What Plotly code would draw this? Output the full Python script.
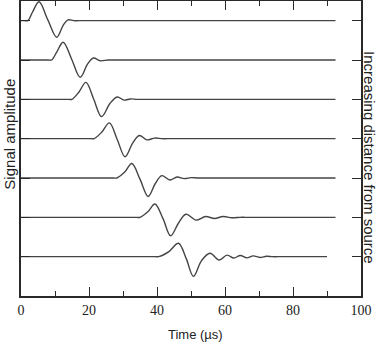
import plotly.graph_objects as go

# Baseline offsets (trace 1 at top)
offsets = [7, 6, 5, 4, 3, 2, 1]

# Key points of each waveform: time (µs) and amplitude relative to baseline
trace1_t = [0, 1.0, 2.0, 3.4, 5.3, 7.9, 10.5, 12.4, 13.8, 15.5, 17.0, 92.5]
trace1_a = [0, 0, 0, 0.22, 0.48, 0.02, -0.42, -0.12, 0.02, 0, 0, 0]

trace2_t = [0, 8.0, 9.0, 10.5, 12.4, 14.9, 17.4, 19.6, 21.3, 23.3, 25.5, 27.0, 92.5]
trace2_a = [0, 0, 0, 0.2, 0.45, 0.02, -0.44, -0.1, 0.05, -0.02, 0, 0, 0]

trace3_t = [0, 14.0, 15.0, 17.0, 19.1, 21.4, 23.7, 26.2, 28.3, 30.3, 32.2, 34, 35.5, 92.5]
trace3_a = [0, 0, 0, 0.18, 0.43, 0.0, -0.44, -0.1, 0.06, -0.02, 0.01, 0, 0, 0]

trace4_t = [0, 20.5, 21.5, 23.8, 26.0, 28.3, 30.6, 32.8, 34.8, 37.0, 39.3, 41.5, 43.0, 92.5]
trace4_a = [0, 0, 0, 0.17, 0.40, -0.02, -0.46, -0.12, 0.08, -0.03, 0.015, 0, 0, 0]

trace5_t = [0, 27.2, 28.2, 30.5, 32.6, 35.0, 37.4, 39.5, 41.4, 43.8, 45.9, 48.0, 50.0, 52, 53.5, 92.5]
trace5_a = [0, 0, 0, 0.15, 0.37, -0.03, -0.47, -0.14, 0.06, -0.05, 0.025, -0.015, 0.01, 0, 0, 0]

trace6_t = [0, 34.0, 35.0, 37.3, 39.4, 41.8, 44.0, 46.3, 48.5, 51.5, 54.3, 56.9, 59.4, 62, 64.5, 66.0, 92.5]
trace6_a = [0, 0, 0, 0.14, 0.34, -0.04, -0.47, -0.15, 0.08, -0.07, 0.02, -0.03, 0.02, -0.01, 0, 0, 0]

trace7_t = [0, 39.5, 40.5, 43.5, 46.3, 48.6, 50.7, 53.1, 55.6, 58.3, 60.6, 62.6, 64.5, 66.4, 68.3, 70.3, 72.2, 74, 75.5, 90]
trace7_a = [0, 0, 0, 0.13, 0.34, -0.05, -0.50, -0.1, 0.085, -0.085, 0.04, -0.035, 0.03, -0.03, 0.02, -0.02, 0.01, 0, 0, 0]

x_ticks = [0, 20, 40, 60, 80, 100]
x_tick_labels = ["0", "20", "40", "60", "80", "100"]

waves = [
    (trace1_t, trace1_a), (trace2_t, trace2_a), (trace3_t, trace3_a),
    (trace4_t, trace4_a), (trace5_t, trace5_a), (trace6_t, trace6_a),
    (trace7_t, trace7_a),
]

fig = go.Figure()
for (t, a), off in zip(waves, offsets):
    fig.add_trace(go.Scatter(
        x=t, y=[off + v for v in a], mode="lines",
        line=dict(color="#444444", width=1.4, shape="spline", smoothing=1.0),
        showlegend=False, hoverinfo="skip", cliponaxis=False,
    ))

axis_color = "#2a2a2a"
fig.update_layout(
    width=381, height=344, autosize=False,
    margin=dict(l=21, r=20, t=1, b=48, autoexpand=False),
    paper_bgcolor="white", plot_bgcolor="white",
    xaxis=dict(
        range=[0, 100], tickvals=x_ticks, ticktext=x_tick_labels, automargin=False,
        ticks="inside", ticklen=9, tickwidth=1.2, tickcolor=axis_color,
        minor=dict(dtick=10, ticks="inside", ticklen=5, tickwidth=1.2, tickcolor=axis_color),
        showline=True, linewidth=1.6, linecolor=axis_color, mirror="ticks",
        showgrid=False, zeroline=False,
        tickfont=dict(family="Liberation Serif", size=14, color="#222"),
    ),
    yaxis=dict(
        range=[0, 7.5], tickvals=offsets, showticklabels=False, automargin=False,
        ticks="inside", ticklen=9, tickwidth=1.2, tickcolor=axis_color,
        showline=True, linewidth=1.6, linecolor=axis_color, mirror="ticks",
        showgrid=False, zeroline=False,
    ),
    annotations=[
        dict(text="Time (µs)", xref="paper", yref="paper", x=0.512, y=-0.132,
             xanchor="center", yanchor="middle", showarrow=False,
             font=dict(family="Liberation Sans", size=13, color="#222")),
        dict(text="Signal amplitude", xref="paper", yref="paper", x=0, y=0.547,
             xanchor="center", yanchor="middle", xshift=-11, textangle=-90, showarrow=False,
             font=dict(family="Liberation Sans", size=15, color="#222")),
        dict(text="Increasing distance from source", xref="paper", yref="paper", x=1, y=0.471,
             xanchor="center", yanchor="middle", xshift=9, textangle=90, showarrow=False,
             font=dict(family="Liberation Sans", size=15, color="#222")),
    ],
)

fig.write_html(
    "out.html",
    config={"responsive": False, "displayModeBar": False},
    post_script="document.body.style.margin='0';document.body.style.padding='0';"
                "document.documentElement.style.overflow='hidden';",
)
